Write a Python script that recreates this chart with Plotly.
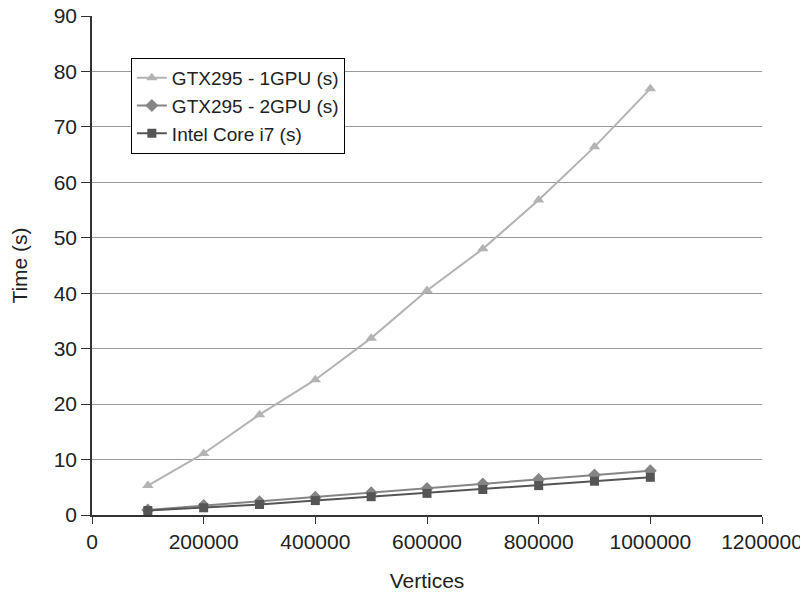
import plotly.graph_objects as go

vertices = [100000, 200000, 300000, 400000, 500000, 600000, 700000, 800000, 900000, 1000000]
gpu1 = [5.3, 11.1, 18.1, 24.4, 31.9, 40.5, 48.0, 56.8, 66.4, 76.9]
gpu2 = [0.9, 1.7, 2.4, 3.2, 4.0, 4.8, 5.6, 6.4, 7.2, 8.0]
i7 = [0.8, 1.3, 1.9, 2.6, 3.3, 3.9, 4.6, 5.3, 6.1, 6.8]

FONT = "Liberation Sans, Arial, sans-serif"

fig = go.Figure()
fig.add_trace(go.Scatter(x=vertices, y=gpu1, name="GTX295 - 1GPU (s)", mode="lines+markers",
                         line=dict(color="#b3b3b3", width=2),
                         marker=dict(symbol="triangle-up", size=10, color="#b3b3b3")))
fig.add_trace(go.Scatter(x=vertices, y=gpu2, name="GTX295 - 2GPU (s)", mode="lines+markers",
                         line=dict(color="#858585", width=2),
                         marker=dict(symbol="diamond", size=10, color="#858585")))
fig.add_trace(go.Scatter(x=vertices, y=i7, name="Intel Core i7 (s)", mode="lines+markers",
                         line=dict(color="#555555", width=2),
                         marker=dict(symbol="square", size=9, color="#555555")))

fig.update_layout(
    width=800, height=588,
    margin=dict(l=84, r=46, t=8, b=81),
    paper_bgcolor="white", plot_bgcolor="white",
    font=dict(family=FONT, size=21, color="#222222"),
    legend=dict(x=0.058, y=0.916, xanchor="left", yanchor="top",
                bordercolor="black", borderwidth=1, bgcolor="white",
                font=dict(size=19), itemwidth=30, tracegroupgap=0),
    xaxis=dict(range=[0, 1200000], dtick=200000, tick0=0, tickformat="d",
               showgrid=False, zeroline=False, showline=True, linecolor="#333333",
               linewidth=1.5, ticks="outside", ticklen=7, tickcolor="#333333",
               automargin=False, ticklabeloverflow="allow",
               title=dict(text="Vertices", font=dict(size=21), standoff=21)),
    yaxis=dict(range=[0, 90], dtick=10, showgrid=True, gridcolor="#999999", gridwidth=1,
               zeroline=False, showline=True, linecolor="#333333", linewidth=1.5,
               ticks="outside", ticklen=9, tickcolor="#333333",
               automargin=False, ticklabeloverflow="allow",
               title=dict(text="Time (s)", font=dict(size=21), standoff=26)),
)

fig.write_html("out.html")
